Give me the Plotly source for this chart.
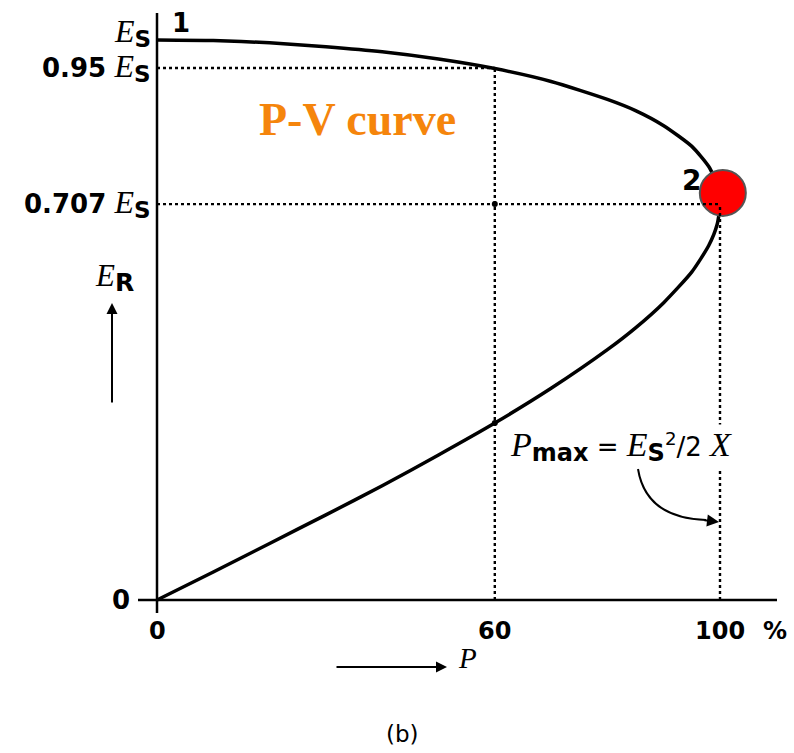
import plotly.graph_objects as go

# Receiving-end voltage E_R (fraction of E_S) against load P (% of P_max)
p_upper = [0, 10, 20, 30, 40, 50, 60, 70, 80, 85, 90, 95, 98, 99.5, 100]
er_upper = [1.0, 0.999, 0.995, 0.988, 0.979, 0.966, 0.949, 0.926, 0.894,
            0.874, 0.847, 0.810, 0.774, 0.742, 0.707]
p_lower = [99.5, 98, 95, 90, 85, 80, 70, 60, 50, 40, 30, 20, 10, 0]
er_lower = [0.671, 0.633, 0.586, 0.531, 0.486, 0.447, 0.378, 0.316, 0.259,
            0.204, 0.152, 0.101, 0.050, 0.0]

# Axis ticks
y_ticks = [0, 0.707, 0.95, 1.0]
y_tick_prefix = ["0", "0.707", "0.95", ""]
x_ticks = [0, 60, 100]
x_tick_text = ["0", "60", "100"]

# Guide lines: (P, E_R) of the 60 % operating point and the nose point
p_op, er_op_high, er_op_low = 60, 0.95, 0.316
p_max, er_crit = 100, 0.707
nose_marker = (100.5, 0.727)

W, H = 794, 753
X0_PX, PX_PER_P = 157, 5.63
Y0_PX, PX_PER_E = 600, 560


def px_x(px):
    return (px - X0_PX) / PX_PER_P


def px_y(py):
    return (Y0_PX - py) / PX_PER_E


SERIF = "Liberation Serif"
SANS = "DejaVu Sans"


def e_sym(sub, e_size=32, sub_size=23):
    return (f"<span style='font-family:{SERIF};font-weight:normal;font-size:{e_size}px'><i>E</i></span>"
            f"<sub><span style='font-size:{sub_size}px'><b>{sub}</b></span></sub>")


fig = go.Figure()

# The P-V (nose) curve
fig.add_trace(go.Scatter(
    x=p_upper + p_lower, y=er_upper + er_lower,
    mode="lines", line=dict(color="black", width=3.5, shape="spline", smoothing=0.6),
    hoverinfo="skip", showlegend=False))

# Dotted guide lines
dot = dict(color="black", width=2.4, dash="dot")
fig.add_shape(type="line", x0=0, x1=p_op, y0=er_op_high, y1=er_op_high, line=dot)
fig.add_shape(type="line", x0=0, x1=p_max, y0=er_crit, y1=er_crit, line=dot)
fig.add_shape(type="line", x0=p_op, x1=p_op, y0=0, y1=er_op_high, line=dot)
fig.add_shape(type="line", x0=p_max, x1=p_max, y0=0, y1=er_crit, line=dot)

# Small dots where guides meet the curve
fig.add_trace(go.Scatter(
    x=[p_op, p_op], y=[er_crit, er_op_low], mode="markers",
    marker=dict(color="black", size=6), hoverinfo="skip", showlegend=False))

# Axes
axis = dict(color="black", width=2.5)
fig.add_shape(type="line", x0=0, x1=0, y0=px_y(613), y1=px_y(13), line=axis)
fig.add_shape(type="line", x0=px_x(138), x1=px_x(777), y0=0, y1=0, line=axis)

ann = []

# y tick labels
for v, pre in zip(y_ticks, y_tick_prefix):
    if v == 0:
        ann.append(dict(x=px_x(132), y=v, text="<b>0</b>", xanchor="right", yanchor="middle",
                        font=dict(family=SANS, size=26, color="black"), showarrow=False))
    else:
        txt = (f"<b>{pre}</b> " if pre else "") + e_sym("S")
        ann.append(dict(x=px_x(153), y=v, text=txt, xanchor="right", yanchor="middle",
                        yshift=1 if pre else 8,
                        font=dict(family=SANS, size=26, color="black"), showarrow=False))

# x tick labels
for p, t in zip(x_ticks, x_tick_text):
    ann.append(dict(x=p, y=px_y(631), text=f"<b>{t}</b>", xanchor="center", yanchor="middle",
                    font=dict(family=SANS, size=24, color="black"), showarrow=False))
ann.append(dict(x=px_x(775), y=px_y(631), text="<b>%</b>", xanchor="center", yanchor="middle",
                font=dict(family=SANS, size=24, color="black"), showarrow=False))

# Point numbers
ann.append(dict(x=px_x(181), y=px_y(23), text="<b>1</b>", xanchor="center", yanchor="middle",
                font=dict(family=SANS, size=26, color="black"), showarrow=False))
ann.append(dict(x=px_x(691), y=px_y(180), text="<b>2</b>", xanchor="center", yanchor="middle",
                font=dict(family=SANS, size=28, color="black"), showarrow=False))

# Title
ann.append(dict(x=px_x(357), y=px_y(119), text="<b>P-V curve</b>", xanchor="center", yanchor="middle",
                font=dict(family=SERIF, size=46, color="#F5850C"), showarrow=False))

# E_R axis name with arrow
ann.append(dict(x=px_x(114), y=px_y(277), text=e_sym("R", 31, 25), xanchor="center", yanchor="middle",
                font=dict(family=SANS, size=24, color="black"), showarrow=False))
ann.append(dict(x=px_x(112), y=px_y(303), ax=0, ay=101, text="", showarrow=True,
                arrowhead=2, arrowsize=1.1, arrowwidth=2, arrowcolor="black"))

# P axis name with arrow
ann.append(dict(x=px_x(447), y=px_y(667), ax=-112, ay=0, text="", showarrow=True,
                arrowhead=2, arrowsize=1.1, arrowwidth=2, arrowcolor="black"))
ann.append(dict(x=px_x(467), y=px_y(658), text="<i>P</i>",
                xanchor="center", yanchor="middle",
                font=dict(family=SERIF, size=29, color="black"), showarrow=False))

# P_max formula
pmax_txt = (f"<span style='font-family:{SERIF};font-size:34px'><i>P</i></span>"
            f"<sub><span style='font-size:24px'><b>max</b></span></sub> = "
            + e_sym("S", 34, 24)
            + "<sup>2</sup>/2 "
            + f"<span style='font-family:{SERIF};font-size:34px'><i>X</i></span>")
ann.append(dict(x=px_x(508), y=px_y(446), text=pmax_txt, xanchor="left", yanchor="middle",
                bgcolor="white", font=dict(family=SANS, size=26, color="black"), showarrow=False))

# Curved pointer from the formula to the 100 % line
x0, y0 = px_x(638), px_y(469)
xc, yc = px_x(646), px_y(518)
x1, y1 = px_x(706), px_y(520)
fig.add_shape(type="path", path=f"M {x0},{y0} Q {xc},{yc} {x1},{y1}",
              line=dict(color="black", width=2))
ann.append(dict(x=px_x(719), y=px_y(522), ax=-16, ay=-2, text="", showarrow=True,
                arrowhead=2, arrowsize=1.2, arrowwidth=2, arrowcolor="black"))

# Caption
ann.append(dict(x=px_x(402), y=px_y(734), text="(b)", xanchor="center", yanchor="middle",
                font=dict(family=SANS, size=23, color="black"), showarrow=False))

# Maximum-power point
fig.add_trace(go.Scatter(
    x=[nose_marker[0]], y=[nose_marker[1]], mode="markers",
    marker=dict(color="#FF0000", size=46, line=dict(color="#555555", width=2)),
    hoverinfo="skip", showlegend=False))

fig.update_layout(
    width=W, height=H,
    margin=dict(l=0, r=0, t=0, b=0),
    paper_bgcolor="white", plot_bgcolor="white",
    xaxis=dict(range=[px_x(0), px_x(W)], visible=False, fixedrange=True),
    yaxis=dict(range=[px_y(H), px_y(0)], visible=False, fixedrange=True),
    annotations=ann,
    showlegend=False,
)

fig.write_html("out.html")
